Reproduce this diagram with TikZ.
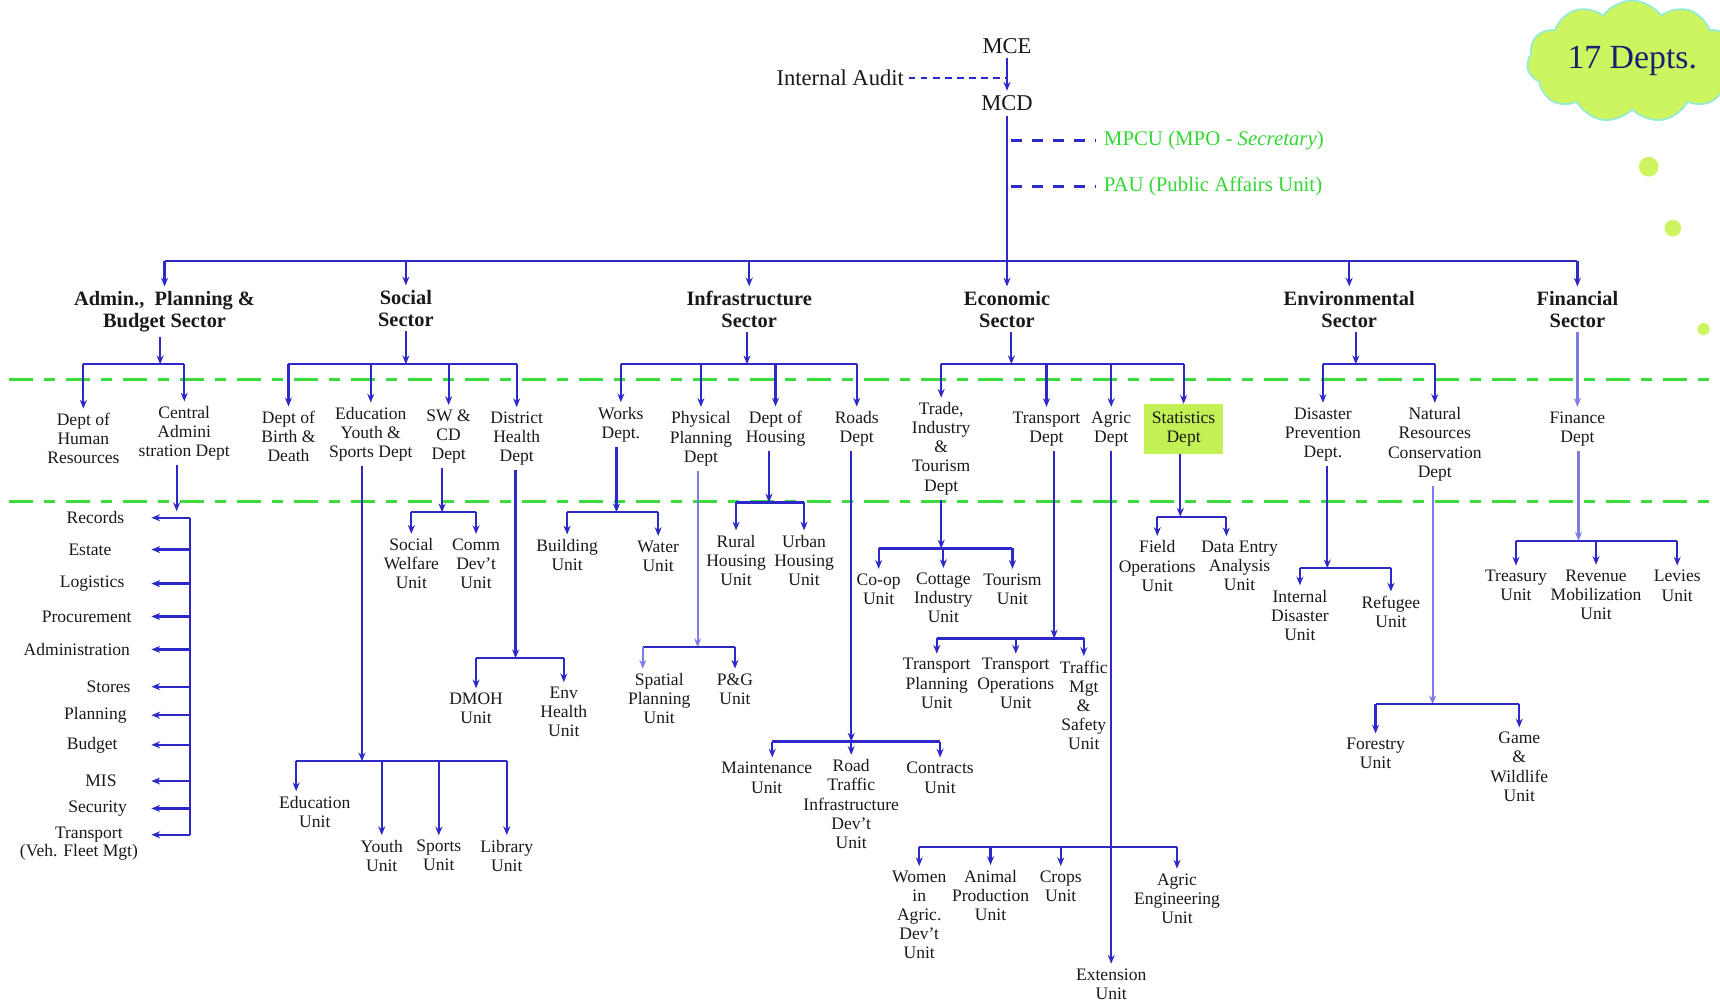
\documentclass[tikz,border=0pt]{standalone}
\usepackage{fontspec}
\setmainfont{Liberation Serif}
\usetikzlibrary{arrows.meta,shapes.symbols}
\definecolor{lb}{RGB}{45,40,200}
\definecolor{llb}{RGB}{125,125,230}
\definecolor{gd}{RGB}{60,220,60}
\definecolor{gt}{RGB}{50,215,50}
\definecolor{cloudf}{RGB}{205,245,95}
\definecolor{cloude}{RGB}{150,235,215}
\definecolor{cloudt}{RGB}{30,30,110}
\definecolor{statf}{RGB}{195,240,85}
\definecolor{txt}{RGB}{25,25,25}
\tikzset{
  ln/.style={draw=lb, line width=1pt},
  arr/.style={ln, -{Stealth[length=4pt,width=3.2pt]}},
  lln/.style={draw=llb, line width=1pt},
  larr/.style={lln, -{Stealth[length=4pt,width=3.2pt]}},
  dsh/.style={draw=lb, line width=0.8pt, dash pattern=on 3pt off 2.5pt},
  bdash/.style={draw=lb, line width=1pt, dash pattern=on 5pt off 4.5pt},
  gline/.style={draw=gd, line width=1.2pt, dash pattern=on 11pt off 5pt on 5pt off 5pt},
  unit/.style={align=center, font=\fontsize{8}{8.7}\selectfont, inner sep=2pt, text=txt},
  sect/.style={align=center, font=\fontsize{9.3}{9.9}\selectfont\bfseries, inner sep=2pt, text=txt},
  topl/.style={font=\fontsize{10.3}{12}\selectfont, inner sep=2pt, text=txt},
  grn/.style={font=\fontsize{9.5}{11}\selectfont, inner sep=3.5pt, text=gt},
}
\begin{document}
\begin{tikzpicture}[x=0.5pt,y=-0.5pt]
\useasboundingbox (0,0) rectangle (1568,912);

% green dashed separators
\draw[gline] (8,346) -- (1568,346);
\draw[gline] (8,457) -- (1568,457);

% cloud and dots
\node[cloud, cloud puffs=11, cloud puff arc=110, aspect=1.85, fill=cloudf, draw=cloude, line width=0.8pt,
      minimum width=96pt, minimum height=52pt, inner sep=0pt, text=cloudt, font=\fontsize{15.4}{17}\selectfont] (cl) at (1488,56) {17 Depts.};
\fill[cloudf] (1503,152) circle[radius=4.5pt];
\fill[cloudf] (1525,208) circle[radius=3.8pt];
\fill[cloudf] (1553,300) circle[radius=2.8pt];

% top
\node[topl] (mce) at (918,42) {MCE};
\node[topl] (mcd) at (918,94) {MCD};
\node[topl] (ia) at (766,71) {Internal Audit};
\node[grn, anchor=west] (mpcu) at (999,128) {MPCU (MPO - \textit{Secretary})};
\node[grn, anchor=west] (pau) at (999,170) {PAU (Public Affairs Unit)};
\coordinate (hub) at (918,238);
\draw[arr] (mce) -- (mcd);
\draw[dsh] (ia.east) -- (ia.east -| mce);
\draw[ln] (mcd) -- (hub);
\draw[bdash] (mpcu.west -| hub) ++(2pt,0) -- (mpcu.west);
\draw[bdash] (pau.west -| hub) ++(2pt,0) -- (pau.west);

% sectors
\node[sect] (s1) at (150,284) {Admin.,\ \ Planning \&\\Budget Sector};
\node[sect] (s2) at (370,281) {Social\\Sector};
\node[sect] (s3) at (683,282) {Infrastructure\\Sector};
\node[sect] (s4) at (918,282) {Economic\\Sector};
\node[sect] (s5) at (1230,282) {Environmental\\Sector};
\node[sect] (s6) at (1438,282) {Financial\\Sector};
\draw[ln] (s1.north |- hub) -- (s6.north |- hub);
\foreach \s in {s1,s2,s3,s4,s5,s6} \draw[arr] (\s.north |- hub) -- (\s.north);

% departments
\node[unit] (hr) at (76,400) {Dept of\\Human\\Resources};
\node[unit] (cad) at (168,395) {Central\\Admini\\stration Dept};
\node[unit] (bd) at (263,398) {Dept of\\Birth \&\\Death};
\node[unit] (eys) at (338,396) {Education\\Youth \&\\Sports Dept};
\node[unit] (swcd) at (409,398) {SW \&\\CD\\Dept};
\node[unit] (dhd) at (471,400) {District\\Health\\Dept};
\node[unit] (works) at (566,387) {Works\\Dept.};
\node[unit] (ppd) at (639,400) {Physical\\Planning\\Dept};
\node[unit] (hous) at (707,391) {Dept of\\Housing};
\node[unit] (roads) at (781,391) {Roads\\Dept};
\node[unit] (trade) at (858,409) {Trade,\\Industry\\\&\\Tourism\\Dept};
\node[unit] (tran) at (954,391) {Transport\\Dept};
\node[unit] (agric) at (1013,391) {Agric\\Dept};
\node[unit, fill=statf, minimum width=36pt, minimum height=22.5pt] (stat) at (1079,391) {Statistics\\Dept};
\node[unit] (dpd) at (1206,396) {Disaster\\Prevention\\Dept.};
\node[unit] (nrc) at (1308,405) {Natural\\Resources\\Conservation\\Dept};
\node[unit] (find) at (1438,391) {Finance\\Dept};

% sector -> department bars
\coordinate (j1) at (146,332);
\draw[arr] (s1.south -| j1) -- (j1);
\draw[ln] (hr.north |- j1) -- (cad.north |- j1);
\foreach \c in {hr,cad} \draw[arr] (\c.north |- j1) -- (\c.north);

\coordinate (j2) at (370,332);
\draw[arr] (s2.south -| j2) -- (j2);
\draw[ln] (bd.north |- j2) -- (dhd.north |- j2);
\foreach \c in {bd,eys,swcd,dhd} \draw[arr] (\c.north |- j2) -- (\c.north);

\coordinate (j3) at (681,332);
\draw[arr] (s3.south -| j3) -- (j3);
\draw[ln] (works.north |- j3) -- (roads.north |- j3);
\foreach \c in {works,ppd,hous,roads} \draw[arr] (\c.north |- j3) -- (\c.north);

\coordinate (j4) at (922,332);
\draw[arr] (s4.south -| j4) -- (j4);
\draw[ln] (trade.north |- j4) -- (stat.north |- j4);
\foreach \c in {trade,tran,agric,stat} \draw[arr] (\c.north |- j4) -- (\c.north);

\coordinate (j5) at (1236,332);
\draw[arr] (s5.south -| j5) -- (j5);
\draw[ln] (dpd.north |- j5) -- (nrc.north |- j5);
\foreach \c in {dpd,nrc} \draw[arr] (\c.north |- j5) -- (\c.north);

\draw[larr] (s6) -- (find);

% Central administration units
\node[unit] (records) at (87,472) {Records};
\node[unit] (estate) at (82,501) {Estate};
\node[unit] (logis) at (84,532) {Logistics};
\node[unit] (proc) at (79,562) {Procurement};
\node[unit] (admn) at (70,592) {Administration};
\node[unit] (stores) at (99,626) {Stores};
\node[unit] (plan) at (87,652) {Planning};
\node[unit] (budget) at (84,679) {Budget};
\node[unit] (mis) at (92,712) {MIS};
\node[unit] (secu) at (89,737) {Security};
\node[unit] (trn) at (81,761) {Transport};
\node[unit] (trn2) at (72,777) {(Veh. Fleet Mgt)};
\coordinate (caj) at (161,466);
\coordinate (cav) at (173,472);
\coordinate (tipx) at (138,472);
\draw[arr] (cad.south -| caj) -- (caj);
\draw[ln] (cav) -- (cav |- trn.east);
\foreach \i in {records,estate,logis,proc,admn,stores,plan,budget,mis,secu,trn}
  \draw[arr] (cav |- \i.east) -- (tipx |- \i.east);

% Education Youth & Sports units
\node[unit] (edu) at (287,740) {Education\\Unit};
\node[unit] (youth) at (348,780) {Youth\\Unit};
\node[unit] (sports) at (400,780) {Sports\\Unit};
\node[unit] (lib) at (462,780) {Library\\Unit};
\coordinate (ej) at (330,694);
\coordinate (eduA) at (270,694);
\draw[arr] (eys.south -| ej) -- (ej);
\draw[ln] (eduA) -- (lib.north |- ej);
\draw[arr] (eduA) -- (eduA |- edu.north);
\foreach \c in {youth,sports,lib} \draw[arr] (\c.north |- ej) -- (\c.north);

% SW & CD units
\node[unit] (sw) at (375,514) {Social\\Welfare\\Unit};
\node[unit] (cd) at (434,514) {Comm\\Dev't\\Unit};
\coordinate (swj) at (403,467);
\draw[arr] (swcd.south -| swj) -- (swj);
\draw[ln] (sw.north |- swj) -- (cd.north |- swj);
\foreach \c in {sw,cd} \draw[arr] (\c.north |- swj) -- (\c.north);

% District Health units
\node[unit] (dmoh) at (434,646) {DMOH\\Unit};
\node[unit] (envh) at (514,649) {Env\\Health\\Unit};
\coordinate (dhj) at (470,600);
\draw[arr] (dhd.south -| dhj) -- (dhj);
\draw[ln] (dmoh.north |- dhj) -- (envh.north |- dhj);
\foreach \c in {dmoh,envh} \draw[arr] (\c.north |- dhj) -- (\c.north);

% Works units
\node[unit] (bldg) at (517,506) {Building\\Unit};
\node[unit] (water) at (600,507) {Water\\Unit};
\coordinate (wj) at (562,467);
\draw[arr] (works.south -| wj) -- (wj);
\draw[ln] (bldg.north |- wj) -- (water.north |- wj);
\foreach \c in {bldg,water} \draw[arr] (\c.north |- wj) -- (\c.north);

% Physical planning units
\node[unit] (spatial) at (601,637) {Spatial\\Planning\\Unit};
\node[unit] (pg) at (670,628) {P\&G\\Unit};
\coordinate (pj) at (636,590);
\coordinate (spA) at (586,590);
\draw[larr] (ppd.south -| pj) -- (pj);
\draw[ln] (spA) -- (pg.north |- pj);
\draw[larr] (spA) -- (spA |- spatial.north);
\draw[arr] (pg.north |- pj) -- (pg.north);

% Housing units
\node[unit] (rural) at (671,511) {Rural\\Housing\\Unit};
\node[unit] (urban) at (733,511) {Urban\\Housing\\Unit};
\coordinate (hj) at (701,458);
\draw[arr] (hous.south -| hj) -- (hj);
\draw[ln] (rural.north |- hj) -- (urban.north |- hj);
\foreach \c in {rural,urban} \draw[arr] (\c.north |- hj) -- (\c.north);

% Roads units
\node[unit] (maint) at (699,709) {Maintenance\\Unit};
\node[unit] (rtid) at (776,733) {Road\\Traffic\\Infrastructure\\Dev't\\Unit};
\node[unit] (contr) at (857,709) {Contracts\\Unit};
\coordinate (rj) at (776,676);
\coordinate (maintA) at (704,676);
\draw[arr] (roads.south -| rj) -- (rj);
\draw[ln] (maintA) -- (contr.north |- rj);
\draw[arr] (maintA) -- (maintA |- maint.north);
\draw[arr] (rj) -- (rtid.north);
\draw[arr] (contr.north |- rj) -- (contr.north);

% Trade units
\node[unit] (coop) at (801,537) {Co-op\\Unit};
\node[unit] (cott) at (860,545) {Cottage\\Industry\\Unit};
\node[unit] (tour) at (923,537) {Tourism\\Unit};
\coordinate (tj) at (858,500);
\draw[arr] (trade.south -| tj) -- (tj);
\draw[ln] (coop.north |- tj) -- (tour.north |- tj);
\foreach \c in {coop,cott,tour} \draw[arr] (\c.north |- tj) -- (\c.north);

% Transport units
\node[unit] (tp) at (854,623) {Transport\\Planning\\Unit};
\node[unit] (tops) at (926,623) {Transport\\Operations\\Unit};
\node[unit] (tms) at (988,643) {Traffic\\Mgt\\\&\\Safety\\Unit};
\coordinate (trj) at (961,582);
\draw[arr] (tran.south -| trj) -- (trj);
\draw[ln] (tp.north |- trj) -- (tms.north |- trj);
\foreach \c in {tp,tops,tms} \draw[arr] (\c.north |- trj) -- (\c.north);

% Agric units
\node[unit] (wia) at (838,834) {Women\\in\\Agric.\\Dev't\\Unit};
\node[unit] (anim) at (903,816) {Animal\\Production\\Unit};
\node[unit] (crops) at (967,808) {Crops\\Unit};
\node[unit] (aeng) at (1073,819) {Agric\\Engineering\\Unit};
\node[unit] (ext) at (1013,897) {Extension\\Unit};
\coordinate (aj) at (1013,772);
\draw[arr] (agric.south -| aj) -- (ext.north -| aj);
\draw[ln] (wia.north |- aj) -- (aeng.north |- aj);
\foreach \c in {wia,anim,crops,aeng} \draw[arr] (\c.north |- aj) -- (\c.north);

% Statistics units
\node[unit] (field) at (1055,516) {Field\\Operations\\Unit};
\node[unit] (dea) at (1130,516) {Data Entry\\Analysis\\Unit};
\coordinate (stj) at (1076,471);
\coordinate (deaA) at (1118,471);
\draw[arr] (stat.south -| stj) -- (stj);
\draw[ln] (field.north |- stj) -- (deaA);
\draw[arr] (field.north |- stj) -- (field.north);
\draw[arr] (deaA) -- (deaA |- dea.north);

% Disaster prevention units
\node[unit] (idu) at (1185,561) {Internal\\Disaster\\Unit};
\node[unit] (refu) at (1268,558) {Refugee\\Unit};
\coordinate (dj) at (1210,518);
\draw[arr] (dpd.south -| dj) -- (dj);
\draw[ln] (idu.north |- dj) -- (refu.north |- dj);
\foreach \c in {idu,refu} \draw[arr] (\c.north |- dj) -- (\c.north);

% Natural resources units
\node[unit] (forest) at (1254,687) {Forestry\\Unit};
\node[unit] (game) at (1385,699) {Game\\\&\\Wildlife\\Unit};
\coordinate (nj) at (1306,642);
\draw[larr] (nrc.south -| nj) -- (nj);
\draw[ln] (forest.north |- nj) -- (game.north |- nj);
\foreach \c in {forest,game} \draw[arr] (\c.north |- nj) -- (\c.north);

% Finance units
\node[unit] (treas) at (1382,534) {Treasury\\Unit};
\node[unit] (rev) at (1455,542) {Revenue\\Mobilization\\Unit};
\node[unit] (lev) at (1529,534) {Levies\\Unit};
\coordinate (fj) at (1439,493);
\draw[larr] (find.south -| fj) -- (fj);
\draw[ln] (treas.north |- fj) -- (lev.north |- fj);
\foreach \c in {treas,rev,lev} \draw[arr] (\c.north |- fj) -- (\c.north);
\end{tikzpicture}
\end{document}
